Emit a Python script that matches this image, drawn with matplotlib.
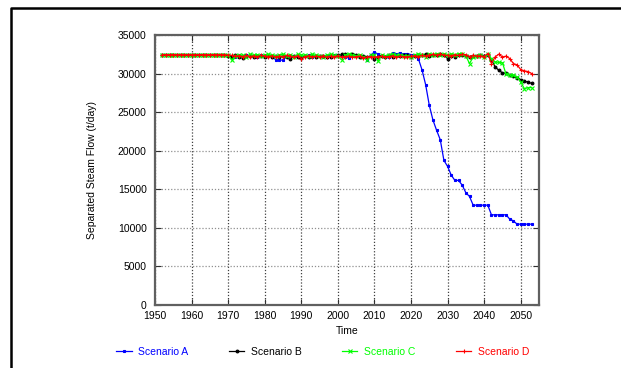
import matplotlib
matplotlib.use("Agg")
import matplotlib.pyplot as plt
from matplotlib.lines import Line2D

plt.rcParams['font.family'] = ['Liberation Sans', 'DejaVu Sans']

years = list(range(1952, 2054))

early = [32450, 32450, 32450, 32450, 32450, 32450, 32450, 32450, 32450,
         32450, 32450, 32450, 32450, 32450, 32450, 32450, 32450, 32450]

scenario_a = early + [
    32450, 32300, 32200, 32350, 32250, 32400, 32300, 32250, 32200, 32350,
    32300, 32250, 32200, 31800, 31750, 31750, 32200, 32300, 32250, 32300,
    32100, 32250, 32350, 32200, 32300, 32250, 32150, 32300, 32400, 32350,
    32450, 32300, 32200, 32000, 32250, 32300, 32150, 32300, 31800, 32400,
    32800, 32500, 32250, 32300, 32200, 32650, 32500, 32700, 32500, 32600,
    32450, 32400, 31950, 30500, 28570, 25890, 23980, 22640, 21430, 18740,
    17970, 16840, 16150, 16150, 15540, 14550, 14070, 12940, 12940, 12940,
    12940, 12940, 11690, 11690, 11690, 11690, 11690, 11130, 10910, 10480,
    10480, 10480, 10480, 10480]

scenario_b = early + [
    32300, 32150, 32350, 32200, 32000, 32250, 32300, 32100, 32250, 32300,
    32150, 32300, 32200, 32250, 32100, 32300, 32200, 31900, 32250, 32150,
    32000, 32250, 32200, 32300, 32150, 32250, 32300, 32200, 32150, 32300,
    32350, 32500, 32550, 32450, 32550, 32400, 32200, 32300, 32100, 32250,
    31900, 32200, 32300, 32200, 32350, 32200, 32300, 32250, 32400, 32350,
    32200, 32300, 32450, 32350, 32500, 32300, 32450, 32350, 32500, 32400,
    31950, 32300, 32200, 32350, 32400, 32300, 32200, 32250, 32300, 32450,
    32300, 32400, 31800, 30870, 30430, 30090, 30050, 29830, 29650, 29440,
    29220, 29050, 28870, 28740]

scenario_c = early + [
    32450, 31750, 32300, 32450, 32350, 32200, 32500, 32350, 32450, 32300,
    32400, 32500, 32350, 32250, 32400, 32500, 32300, 32450, 32200, 32500,
    32350, 32400, 32250, 32500, 32350, 32300, 32200, 32400, 32500, 32350,
    32250, 31800, 32400, 32500, 32350, 32300, 32450, 32200, 31700, 32350,
    32400, 31600, 32400, 32300, 32450, 32500, 32350, 32450, 32300, 32250,
    32100, 32450, 32500, 32400, 32200, 32550, 32450, 32600, 32450, 32500,
    32350, 32550, 32450, 32600, 32500, 32300, 31300, 32150, 32250, 32400,
    32200, 32500, 31950, 31500, 31450, 31400, 29900, 29850, 29780, 29570,
    28900, 28050, 28180, 28180]

scenario_d = early + [
    32400, 32350, 32250, 32300, 32200, 32350, 32200, 32300, 32150, 32400,
    32250, 32200, 32300, 32150, 32250, 32200, 32350, 32250, 32150, 32300,
    31950, 32200, 32300, 32150, 32250, 32200, 32300, 32100, 32250, 32200,
    32300, 32150, 32200, 32250, 32100, 32200, 32250, 32050, 32150, 32200,
    32100, 32200, 32250, 32150, 32200, 32300, 32100, 32250, 32200, 32150,
    32250, 32300, 32200, 32350, 32250, 32400, 32500, 32350, 32550, 32400,
    32350, 32300, 32450, 32350, 32500, 32450, 32200, 32350, 32250, 32300,
    32200, 32600, 31300, 32160, 32510, 32160, 32250, 31950, 31300, 31130,
    30520, 30350, 30260, 30000]

labels = ['Scenario A', 'Scenario B', 'Scenario C', 'Scenario D']
colors = ['#0000ff', '#000000', '#00ff00', '#ff0000']
markers = ['s', 'o', 'x', '+']
msizes = [2.0, 2.0, 3.0, 3.4]

fig = plt.figure(figsize=(6.21, 3.68), dpi=100)
ax = fig.add_axes([155 / 621, 1 - 305 / 368, 384 / 621, 270 / 368])

series = [scenario_a, scenario_b, scenario_c, scenario_d]
handles = []
for vals, lab, col, mk, ms in zip(series, labels, colors, markers, msizes):
    h, = ax.plot(years, vals, color=col, lw=0.9, marker=mk, markersize=ms,
                 markeredgewidth=0.8, label=lab)
    handles.append(h)

ax.set_xlim(1950, 2055)
ax.set_ylim(0, 35000)
ax.set_xticks(range(1950, 2051, 10))
ax.set_yticks(range(0, 35001, 5000))
ax.tick_params(direction='in', top=True, right=True, labelsize=7.5,
               length=4, width=0.8, colors='#303030', labelcolor='black')
ax.tick_params(axis='x', pad=4)
ax.tick_params(axis='y', pad=6)

ax.xaxis.grid(True, linestyle=(0, (1, 1.5)), color='#404040', lw=0.9)
ax.yaxis.grid(True, linestyle=(0, (1, 1.5)), color='#909090', lw=0.9)
ax.set_axisbelow(True)
for sp in ax.spines.values():
    sp.set_color('#606060')
    sp.set_linewidth(1.6)

ax.set_xlabel('Time', fontsize=7.5, labelpad=4)
ax.set_ylabel('Separated Steam Flow (t/day)', fontsize=7.5, labelpad=15)

leg = fig.legend(handles=handles, loc='center', ncol=4,
                 bbox_to_anchor=(0.52, 1 - 352 / 368), frameon=False,
                 fontsize=7.5, handlelength=1.45, handletextpad=0.65,
                 columnspacing=3.9)
for txt, col in zip(leg.get_texts(), colors):
    txt.set_color(col)

# outer border along the left and top edges
fig.add_artist(Line2D([11 / 621, 11 / 621, 1.0],
                      [0.0, 1 - 8 / 368, 1 - 8 / 368],
                      transform=fig.transFigure, color='black', lw=1.8))

fig.savefig('out.png', dpi=100)
